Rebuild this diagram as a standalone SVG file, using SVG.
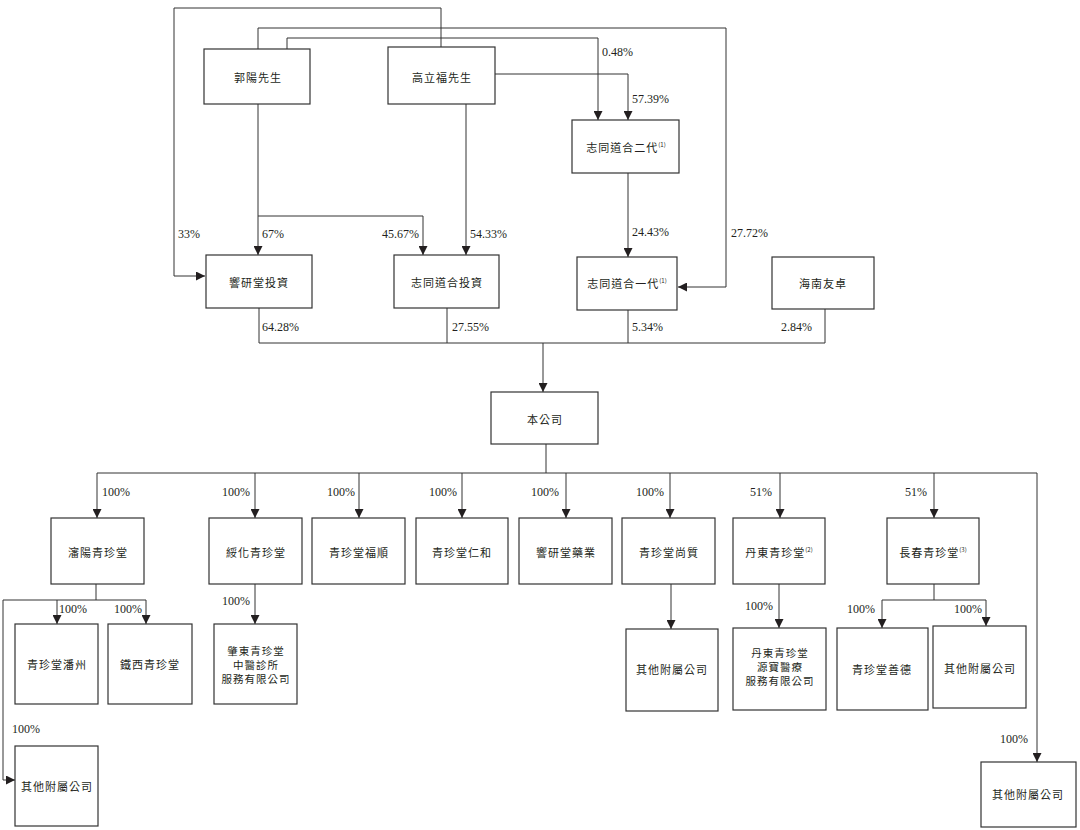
<svg xmlns="http://www.w3.org/2000/svg" width="1080" height="830" viewBox="0 0 1080 830">
<style>
.box{fill:#fff;stroke:#333;stroke-width:1.2}
.t{font-family:"Noto Sans CJK TC","Noto Sans CJK SC",sans-serif;font-size:11px;letter-spacing:1px;fill:#231f20;text-anchor:middle;dominant-baseline:central}
.m{font-size:10.5px}
.sup{font-size:6px;letter-spacing:0}
.p{font-family:"Liberation Serif",serif;font-size:12px;fill:#231f20}
.e{text-anchor:end}
.ln{fill:none;stroke:#333;stroke-width:1}
.ar{fill:none;stroke:#333;stroke-width:1;marker-end:url(#ah)}
</style>
<defs>
<marker id="ah" viewBox="0 0 10 10" refX="10" refY="5" markerWidth="9" markerHeight="9" markerUnits="userSpaceOnUse" orient="auto">
<path d="M0,0 L10,5 L0,10 z" fill="#231f20"/>
</marker>
</defs>
<rect width="1080" height="830" fill="#fff"/>

<g id="connectors">
<path class="ar" d="M441,47 V8 H174 V276 H205"/>
<path class="ar" d="M258,49 V28 H726 V287 H678"/>
<path class="ar" d="M287,49 V38 H598 V120"/>
<path class="ar" d="M495,74 H628 V120"/>
<path class="ar" d="M258,104 V255"/>
<path class="ar" d="M258,216 H423 V255"/>
<path class="ar" d="M466,104 V255"/>
<path class="ar" d="M628,173 V257"/>
<path class="ln" d="M259,308 V343 H825 V309"/>
<path class="ln" d="M447,308 V343"/>
<path class="ln" d="M628,310 V343"/>
<path class="ar" d="M543,343 V392"/>
<path class="ln" d="M546,444 V473"/>
<path class="ar" d="M97,473 H1037 V762"/>
<path class="ar" d="M255,473 V518"/>
<path class="ar" d="M359,473 V518"/>
<path class="ar" d="M462,473 V518"/>
<path class="ar" d="M566,473 V518"/>
<path class="ar" d="M670,473 V518"/>
<path class="ar" d="M780,473 V518"/>
<path class="ar" d="M934,473 V518"/>
<path class="ar" d="M97,473 V518"/>
<path class="ln" d="M96,584 V600"/>
<path class="ar" d="M3,600 H146 V624"/>
<path class="ar" d="M57,600 V624"/>
<path class="ar" d="M3,600 V780 H15"/>
<path class="ar" d="M255,584 V624"/>
<path class="ar" d="M671,584 V629"/>
<path class="ar" d="M779,584 V628"/>
<path class="ln" d="M934,584 V600"/>
<path class="ar" d="M882,600 H986 V626"/>
<path class="ar" d="M882,600 V628"/>

<text class="p" x="178" y="238">33%</text>
<text class="p" x="731" y="237">27.72%</text>
<text class="p" x="602" y="56">0.48%</text>
<text class="p" x="632" y="103">57.39%</text>
<text class="p" x="262" y="238">67%</text>
<text class="p e" x="419" y="238">45.67%</text>
<text class="p" x="470" y="238">54.33%</text>
<text class="p" x="632" y="236">24.43%</text>
<text class="p" x="262" y="331">64.28%</text>
<text class="p" x="452" y="331">27.55%</text>
<text class="p" x="632" y="331">5.34%</text>
<text class="p" x="781" y="331">2.84%</text>
<text class="p" x="102" y="496">100%</text>
<text class="p e" x="250" y="496">100%</text>
<text class="p e" x="355" y="496">100%</text>
<text class="p e" x="457" y="496">100%</text>
<text class="p e" x="559" y="496">100%</text>
<text class="p e" x="664" y="496">100%</text>
<text class="p e" x="772" y="496">51%</text>
<text class="p e" x="927" y="496">51%</text>
<text class="p" x="59" y="613">100%</text>
<text class="p" x="114" y="613">100%</text>
<text class="p" x="12" y="733">100%</text>
<text class="p e" x="250" y="605">100%</text>
<text class="p e" x="773" y="610">100%</text>
<text class="p e" x="875" y="613">100%</text>
<text class="p e" x="982" y="613">100%</text>
<text class="p e" x="1028" y="743">100%</text>
</g>

<g id="n_guo"><rect class="box" x="204" y="49" width="106" height="55"/><text class="t" x="258" y="77">郭陽先生</text></g>
<g id="n_gao"><rect class="box" x="388" y="47" width="107" height="57"/><text class="t" x="442" y="77">高立福先生</text></g>
<g id="n_ztdh2"><rect class="box" x="572" y="120" width="107" height="53"/><text class="t" x="626" y="147">志同道合二代<tspan class="sup" dy="-3">(1)</tspan></text></g>
<g id="n_xyt_inv"><rect class="box" x="206" y="255" width="106" height="53"/><text class="t" x="259" y="282">響研堂投資</text></g>
<g id="n_ztdh_inv"><rect class="box" x="394" y="255" width="105" height="53"/><text class="t" x="447" y="282">志同道合投資</text></g>
<g id="n_ztdh1"><rect class="box" x="577" y="257" width="100" height="53"/><text class="t" x="627" y="283">志同道合一代<tspan class="sup" dy="-3">(1)</tspan></text></g>
<g id="n_hainan"><rect class="box" x="772" y="257" width="102" height="52"/><text class="t" x="823" y="283">海南友卓</text></g>
<g id="n_company"><rect class="box" x="491" y="392" width="107" height="52"/><text class="t" x="545" y="419">本公司</text></g>

<g id="n_shenyang"><rect class="box" x="51" y="518" width="93" height="66"/><text class="t" x="98" y="552">瀋陽青珍堂</text></g>
<g id="n_suihua"><rect class="box" x="209" y="518" width="93" height="66"/><text class="t" x="256" y="552">綏化青珍堂</text></g>
<g id="n_fushun"><rect class="box" x="312" y="518" width="93" height="66"/><text class="t" x="359" y="552">青珍堂福順</text></g>
<g id="n_renhe"><rect class="box" x="416" y="518" width="92" height="66"/><text class="t" x="462" y="552">青珍堂仁和</text></g>
<g id="n_yaoye"><rect class="box" x="519" y="518" width="93" height="66"/><text class="t" x="566" y="552">響研堂藥業</text></g>
<g id="n_shangzhi"><rect class="box" x="622" y="518" width="93" height="66"/><text class="t" x="669" y="552">青珍堂尚質</text></g>
<g id="n_dandong"><rect class="box" x="733" y="518" width="92" height="66"/><text class="t" x="779" y="552">丹東青珍堂<tspan class="sup" dy="-3">(2)</tspan></text></g>
<g id="n_changchun"><rect class="box" x="887" y="518" width="92" height="66"/><text class="t" x="933" y="552">長春青珍堂<tspan class="sup" dy="-3">(3)</tspan></text></g>

<g id="n_panzhou"><rect class="box" x="15" y="624" width="83" height="80"/><text class="t" x="57" y="664">青珍堂潘州</text></g>
<g id="n_tiexi"><rect class="box" x="108" y="624" width="84" height="80"/><text class="t" x="150" y="664">鐵西青珍堂</text></g>
<g id="n_zhaodong"><rect class="box" x="214" y="624" width="83" height="80"/><text class="t m" x="256" y="650">肇東青珍堂</text><text class="t m" x="256" y="664">中醫診所</text><text class="t m" x="256" y="678">服務有限公司</text></g>
<g id="n_other1"><rect class="box" x="15" y="746" width="83" height="80"/><text class="t" x="57" y="786">其他附屬公司</text></g>
<g id="n_other2"><rect class="box" x="626" y="629" width="92" height="82"/><text class="t" x="672" y="669">其他附屬公司</text></g>
<g id="n_yuanbao"><rect class="box" x="733" y="628" width="93" height="82"/><text class="t m" x="780" y="652">丹東青珍堂</text><text class="t m" x="780" y="666">源寶醫療</text><text class="t m" x="780" y="680">服務有限公司</text></g>
<g id="n_shande"><rect class="box" x="837" y="628" width="91" height="82"/><text class="t" x="882" y="669">青珍堂善德</text></g>
<g id="n_other3"><rect class="box" x="933" y="626" width="93" height="82"/><text class="t" x="980" y="668">其他附屬公司</text></g>
<g id="n_other4"><rect class="box" x="981" y="762" width="95" height="65"/><text class="t" x="1028" y="794">其他附屬公司</text></g>
</svg>
